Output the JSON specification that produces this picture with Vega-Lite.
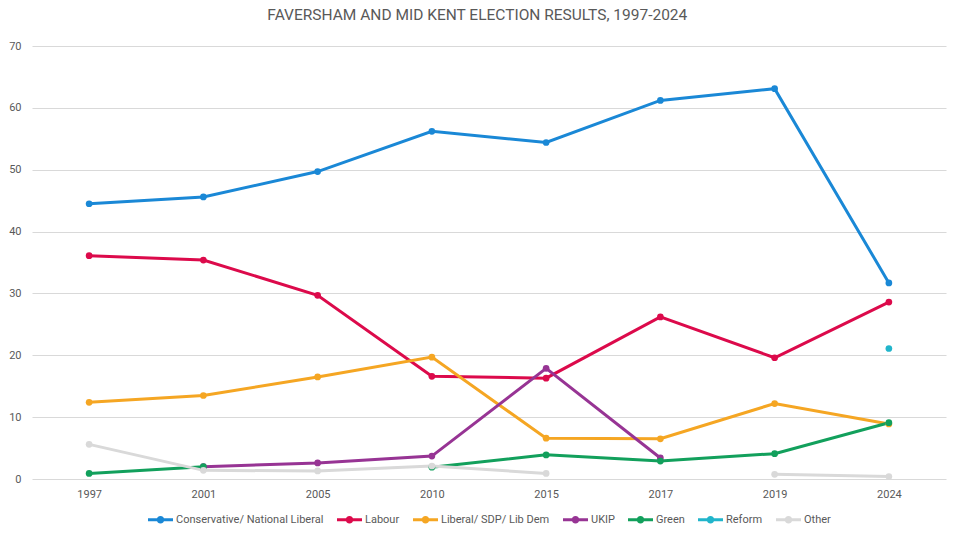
{
  "$schema": "https://vega.github.io/schema/vega-lite/v6.json",
  "width": 914,
  "height": 433,
  "padding": {"left": 8, "top": 7, "right": 15, "bottom": 4},
  "background": "white",
  "title": {
    "text": "FAVERSHAM AND MID KENT ELECTION RESULTS, 1997-2024",
    "fontSize": 15.5,
    "fontWeight": "normal",
    "color": "#595959",
    "font": "Roboto",
    "offset": 17,
    "frame": "bounds"
  },
  "data": {
    "values": [
      {"year": "1997", "party": "Conservative/ National Liberal", "share": 44.5},
      {"year": "2001", "party": "Conservative/ National Liberal", "share": 45.6},
      {"year": "2005", "party": "Conservative/ National Liberal", "share": 49.7},
      {"year": "2010", "party": "Conservative/ National Liberal", "share": 56.2},
      {"year": "2015", "party": "Conservative/ National Liberal", "share": 54.4},
      {"year": "2017", "party": "Conservative/ National Liberal", "share": 61.2},
      {"year": "2019", "party": "Conservative/ National Liberal", "share": 63.1},
      {"year": "2024", "party": "Conservative/ National Liberal", "share": 31.7},
      {"year": "1997", "party": "Labour", "share": 36.1},
      {"year": "2001", "party": "Labour", "share": 35.4},
      {"year": "2005", "party": "Labour", "share": 29.7},
      {"year": "2010", "party": "Labour", "share": 16.6},
      {"year": "2015", "party": "Labour", "share": 16.3},
      {"year": "2017", "party": "Labour", "share": 26.2},
      {"year": "2019", "party": "Labour", "share": 19.6},
      {"year": "2024", "party": "Labour", "share": 28.6},
      {"year": "1997", "party": "Liberal/ SDP/ Lib Dem", "share": 12.4},
      {"year": "2001", "party": "Liberal/ SDP/ Lib Dem", "share": 13.5},
      {"year": "2005", "party": "Liberal/ SDP/ Lib Dem", "share": 16.5},
      {"year": "2010", "party": "Liberal/ SDP/ Lib Dem", "share": 19.7},
      {"year": "2015", "party": "Liberal/ SDP/ Lib Dem", "share": 6.6},
      {"year": "2017", "party": "Liberal/ SDP/ Lib Dem", "share": 6.5},
      {"year": "2019", "party": "Liberal/ SDP/ Lib Dem", "share": 12.2},
      {"year": "2024", "party": "Liberal/ SDP/ Lib Dem", "share": 8.9},
      {"year": "2001", "party": "UKIP", "share": 2.0},
      {"year": "2005", "party": "UKIP", "share": 2.6},
      {"year": "2010", "party": "UKIP", "share": 3.7},
      {"year": "2015", "party": "UKIP", "share": 17.9},
      {"year": "2017", "party": "UKIP", "share": 3.4},
      {"year": "1997", "party": "Green", "share": 0.9},
      {"year": "2001", "party": "Green", "share": 2.0},
      {"year": "2005", "party": "Green", "share": null},
      {"year": "2010", "party": "Green", "share": 1.9},
      {"year": "2015", "party": "Green", "share": 3.9},
      {"year": "2017", "party": "Green", "share": 2.9},
      {"year": "2019", "party": "Green", "share": 4.1},
      {"year": "2024", "party": "Green", "share": 9.1},
      {"year": "2024", "party": "Reform", "share": 21.1},
      {"year": "1997", "party": "Other", "share": 5.6},
      {"year": "2001", "party": "Other", "share": 1.4},
      {"year": "2005", "party": "Other", "share": 1.3},
      {"year": "2010", "party": "Other", "share": 2.1},
      {"year": "2015", "party": "Other", "share": 0.9},
      {"year": "2017", "party": "Other", "share": null},
      {"year": "2019", "party": "Other", "share": 0.75},
      {"year": "2024", "party": "Other", "share": 0.4}
    ]
  },
  "encoding": {
    "x": {
      "field": "year",
      "type": "ordinal",
      "scale": {"type": "point", "padding": 0.5},
      "axis": {
        "title": null,
        "labelAngle": 0,
        "ticks": false,
        "domain": false,
        "grid": false,
        "labelPadding": 9
      }
    },
    "y": {
      "field": "share",
      "type": "quantitative",
      "scale": {"domain": [0, 70]},
      "axis": {
        "title": null,
        "values": [0, 10, 20, 30, 40, 50, 60, 70],
        "ticks": false,
        "domain": false,
        "labelPadding": 11,
        "gridColor": "#d9d9d9"
      }
    },
    "color": {
      "field": "party",
      "type": "nominal",
      "scale": {
        "domain": ["Conservative/ National Liberal", "Labour", "Liberal/ SDP/ Lib Dem", "UKIP", "Green", "Reform", "Other"],
        "range": ["#1a88d6", "#dc0a4b", "#f5a623", "#973494", "#12a05c", "#21b5cb", "#d9d9d9"]
      },
      "legend": {
        "title": null,
        "orient": "bottom",
        "direction": "horizontal",
        "symbolType": "M -1 -0.12 H 1 V 0.12 H -1 Z M 0.3 0 A 0.3 0.3 0 1 1 -0.3 0 A 0.3 0.3 0 1 1 0.3 0 Z",
        "symbolSize": 625,
        "symbolStrokeWidth": 0,
        "labelOffset": 3,
        "columnPadding": 13,
        "offset": 8,
        "encode": {
          "symbols": {
            "update": {
              "fill": {"scale": "color", "field": "value"},
              "stroke": {"value": "transparent"},
              "opacity": {"value": 1}
            }
          }
        }
      }
    }
  },
  "layer": [
    {
      "mark": {"type": "line", "strokeWidth": 3, "invalid": "break-paths-show-domains"}
    },
    {
      "mark": {"type": "point", "filled": true, "size": 45, "opacity": 1}
    }
  ],
  "config": {
    "font": "Roboto",
    "view": {"stroke": null},
    "axis": {"labelColor": "#595959", "labelFontSize": 11, "labelFont": "Roboto"},
    "legend": {"labelColor": "#595959", "labelFontSize": 11, "labelFont": "Roboto", "layout": {"bottom": {"anchor": "middle"}}}
  }
}
